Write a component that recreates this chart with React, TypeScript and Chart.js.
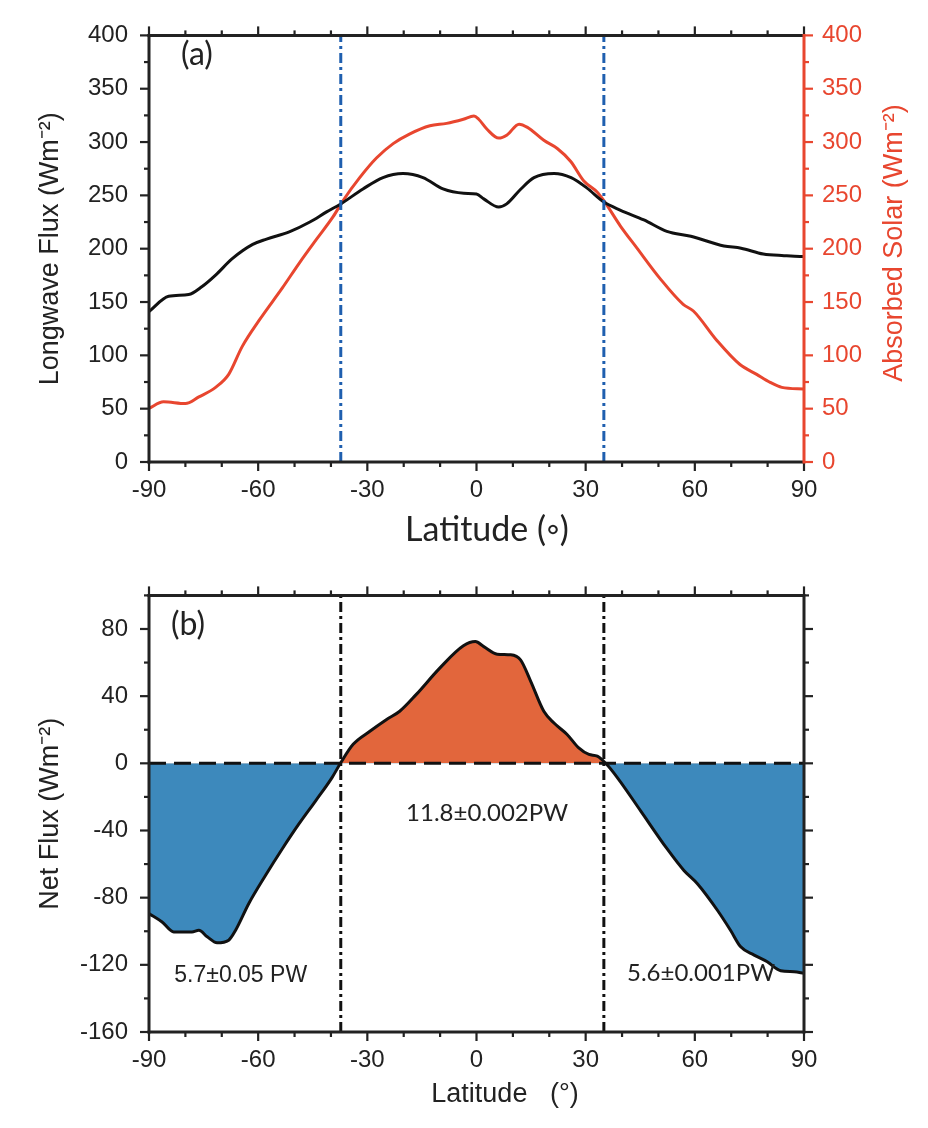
import React, { useEffect, useRef } from 'react';
import { Chart, registerables } from 'chart.js';
Chart.register(...registerables);

// ---------- data ----------
const lwLat = [-90, -84.6, -79.1, -75.4, -71.7, -67.2, -61.5, -57.7, -51.3, -45.8, -41.2, -37.3, -31.2, -25.7, -20.2, -14.7, -9.2, -3.5, 0, 2, 6.1, 8.3, 12.2, 15.8, 21.3, 26, 30.3, 35, 39.6, 46, 52.3, 58.9, 68, 72.7, 78.8, 84.5, 88.9, 90];
const lwVal = [141, 155.4, 157, 164.5, 175.2, 190.4, 204, 209, 216, 225, 234.5, 242, 256, 266.7, 270.5, 266.7, 256, 252, 251.3, 246.7, 239, 242, 256, 266.6, 270.5, 266.6, 257, 243.7, 236, 227, 216.3, 211.7, 202.6, 200.5, 195, 193.5, 192.8, 192.8];

const swLat = [-90, -86, -80, -76.3, -71.7, -68.1, -64.4, -59.8, -53.4, -48.6, -44, -39.4, -36.7, -32.1, -27.5, -22.9, -18.3, -12.8, -8.2, -3.6, -0.7, 0.6, 2.9, 6.1, 8.4, 11.7, 14, 18.5, 22.2, 25.9, 29.5, 33.2, 35, 39.6, 44, 50.4, 56.8, 59.6, 66, 72.4, 77, 80.7, 83.9, 90];
const swVal = [50.3, 56.4, 54.8, 61, 70, 82.2, 108.2, 132.5, 163, 187, 208.7, 230, 245, 266.6, 285, 298.5, 307.7, 315.3, 317.5, 321.4, 324.4, 321.4, 312, 303.7, 306.7, 316.8, 313.8, 301.6, 294, 281.8, 263.5, 252.9, 245, 221, 201, 172.2, 147.8, 141.6, 114.2, 91.4, 82.2, 74.7, 70, 68.5];

const netLat = [-90, -86.4, -83.2, -78.2, -76.3, -74, -71.3, -68.1, -66.2, -62.6, -58, -53.4, -48.8, -44.2, -39.7, -37.4, -33.9, -29.3, -24.8, -21.1, -16.6, -10.1, -3.6, -0.3, 2, 5.7, 9.4, 12.1, 14.9, 18.5, 21.3, 24.9, 28.1, 30.9, 33.2, 35.5, 38.7, 45.1, 52.4, 57, 60.7, 66.2, 69.8, 72.6, 76.3, 79.9, 83.6, 87.3, 90];
const netVal = [-89.5, -94.5, -100.4, -100.4, -99.4, -103.3, -106.9, -105.3, -99.4, -83.6, -66.8, -51, -36.1, -22.3, -8.5, 0, 11.3, 19.1, 26, 31, 40.9, 56.7, 70, 72.5, 69.5, 65, 64.6, 61.6, 48.8, 31, 24, 17.2, 9.2, 5.3, 4.3, 0, -8.5, -28.3, -51, -63.8, -71.7, -87.5, -99.4, -109.3, -114.2, -118.2, -123.5, -124.1, -125];

const boundaryLats = [-37.3, 35];

const transportLabels = ['5.7±0.05 PW', '11.8±0.002PW', '5.6±0.001PW'];
const transportLat = [-64.8, 2.9, 61.7];
const transportVal = [-126.5, -29.6, -124.9];

// ---------- styles ----------
const RED = '#E8462F';
const BLUE_LINE = '#1F5FAF';
const ORANGE = '#E2663C';
const BLUE_FILL = '#3D89BC';
const INK = '#222222';
const HELV = '"Liberation Sans", Arial, sans-serif';
const HUM = 'Lato, "Open Sans", sans-serif';
const TICK_SIZE = 24;
const TITLE_SIZE = 27;

const pts = (xs: number[], ys: number[]) => xs.map((x, i) => ({ x, y: ys[i] }));

const framePlugin = {
  id: 'frameTicks',
  afterDatasetsDraw(chart: any, _a: any, opts: any) {
    const { ctx, chartArea: ca, scales } = chart;
    const xs = scales.x;
    const ys = scales.y;
    const ry = scales[opts.rightScale || 'y'];
    const isMajor = (v: number, s: number) => Math.abs(v / s - Math.round(v / s)) < 1e-6;
    ctx.save();
    ctx.lineCap = 'butt';
    const line = (x1: number, y1: number, x2: number, y2: number, c: string, w: number) => {
      ctx.strokeStyle = c;
      ctx.lineWidth = w;
      ctx.beginPath();
      ctx.moveTo(x1, y1);
      ctx.lineTo(x2, y2);
      ctx.stroke();
    };
    for (let i = 0; ; i++) {
      const v = xs.min + i * opts.xMinor;
      if (v > xs.max + 1e-6) break;
      const p = xs.getPixelForValue(v);
      const L = isMajor(v, opts.xMajor) ? 9 : 5;
      line(p, ca.bottom, p, ca.bottom + L, INK, 2.2);
      line(p, ca.top, p, ca.top - L, INK, 2.2);
    }
    for (let i = 0; ; i++) {
      const v = ys.min + i * opts.yMinor;
      if (v > ys.max + 1e-6) break;
      const p = ys.getPixelForValue(v);
      const L = isMajor(v, opts.yMajor) ? 9 : 5;
      line(ca.left, p, ca.left - L, p, INK, 2.2);
    }
    for (let i = 0; ; i++) {
      const v = ry.min + i * opts.yMinor;
      if (v > ry.max + 1e-6) break;
      const p = ry.getPixelForValue(v);
      const L = isMajor(v, opts.yMajor) ? 9 : 5;
      line(ca.right, p, ca.right + L, p, opts.rightColor, 2.2);
    }
    line(ca.left - 1.5, ca.top, ca.right, ca.top, INK, 3);
    line(ca.left - 1.5, ca.bottom, ca.right, ca.bottom, INK, 3);
    line(ca.left, ca.top - 1.5, ca.left, ca.bottom + 1.5, INK, 3);
    line(ca.right, ca.top - 1.5, ca.right, ca.bottom + 1.5, opts.rightColor, 3);
    ctx.restore();
  },
  afterDraw(chart: any, _a: any, opts: any) {
    const { ctx, scales } = chart;
    (opts.texts || []).forEach((t: any) => {
      const px = t.dataX !== undefined ? scales.x.getPixelForValue(t.dataX) : t.x;
      const py = t.dataY !== undefined ? scales.y.getPixelForValue(t.dataY) : t.y;
      ctx.save();
      ctx.font = t.font;
      ctx.fillStyle = t.color || INK;
      ctx.textAlign = t.align || 'center';
      ctx.textBaseline = 'middle';
      ctx.translate(px, py);
      if (t.rotate) ctx.rotate(t.rotate);
      ctx.fillText(t.text, 0, 0);
      ctx.restore();
    });
  },
};

function ChartA() {
  const ref = useRef<HTMLCanvasElement>(null);
  useEffect(() => {
    const chart = new Chart(ref.current as HTMLCanvasElement, {
      type: 'line',
      data: {
        datasets: [
          ...boundaryLats.map((b) => ({
            data: [{ x: b, y: 0 }, { x: b, y: 400 }],
            borderColor: BLUE_LINE,
            borderWidth: 3,
            borderDash: [10, 4, 3, 4],
            pointRadius: 0,
            yAxisID: 'y',
            order: 0,
          })),
          {
            data: pts(lwLat, lwVal),
            borderColor: '#111',
            borderWidth: 3,
            pointRadius: 0,
            cubicInterpolationMode: 'monotone',
            yAxisID: 'y',
            order: 1,
          },
          {
            data: pts(swLat, swVal),
            borderColor: RED,
            borderWidth: 3,
            pointRadius: 0,
            cubicInterpolationMode: 'monotone',
            yAxisID: 'y1',
            order: 2,
          },
        ] as any,
      },
      options: {
        animation: false,
        responsive: false,
        layout: { padding: { top: 24, left: 0, right: 0, bottom: 0 } },
        plugins: {
          legend: { display: false },
          tooltip: { enabled: false },
          frameTicks: {
            xMinor: 10, xMajor: 30, yMinor: 25, yMajor: 50,
            rightScale: 'y1', rightColor: RED,
            texts: [
              { text: '(a)', x: 181, y: 55, font: `32px ${HUM}`, align: 'left' },
              { text: 'Latitude (◦)', x: 487, y: 530, font: `34px ${HUM}` },
              { text: 'Absorbed Solar (Wm⁻²)', x: 895, y: 243, font: `${TITLE_SIZE}px ${HELV}`, color: RED, rotate: -Math.PI / 2 },
            ],
          },
        } as any,
        scales: {
          x: {
            type: 'linear', min: -90, max: 90,
            ticks: { stepSize: 30, padding: 14, color: INK, font: { family: HELV, size: TICK_SIZE }, maxRotation: 0, autoSkip: false },
            grid: { display: false, drawTicks: false },
            border: { display: false },
            afterFit: (s: any) => { s.height = 98; },
          },
          y: {
            type: 'linear', position: 'left', min: 0, max: 400,
            ticks: { stepSize: 50, padding: 21, color: INK, font: { family: HELV, size: TICK_SIZE } },
            grid: { display: false, drawTicks: false },
            border: { display: false },
            title: { display: true, text: 'Longwave Flux (Wm⁻²)', color: INK, font: { family: HELV, size: TITLE_SIZE }, padding: { top: 34, bottom: 0 } },
            afterFit: (s: any) => { s.width = 149; },
          },
          y1: {
            type: 'linear', position: 'right', min: 0, max: 400,
            ticks: { stepSize: 50, padding: 18, color: RED, font: { family: HELV, size: TICK_SIZE } },
            grid: { display: false, drawTicks: false },
            border: { display: false },
            afterFit: (s: any) => { s.width = 124; },
          },
        } as any,
      },
      plugins: [framePlugin as any],
    });
    return () => chart.destroy();
  }, []);
  return <canvas ref={ref} width={928} height={560} style={{ position: 'absolute', left: 0, top: 0, display: 'block' }} />;
}

function ChartB() {
  const ref = useRef<HTMLCanvasElement>(null);
  useEffect(() => {
    const chart = new Chart(ref.current as HTMLCanvasElement, {
      type: 'line',
      data: {
        datasets: [
          {
            data: [{ x: -90, y: 0 }, { x: 90, y: 0 }],
            borderColor: '#111',
            borderWidth: 3,
            borderDash: [17, 8],
            pointRadius: 0,
            order: 0,
          },
          ...boundaryLats.map((b) => ({
            data: [{ x: b, y: -160 }, { x: b, y: 100 }],
            borderColor: '#111',
            borderWidth: 3,
            borderDash: [10, 4, 3, 4],
            pointRadius: 0,
            order: 1,
          })),
          {
            data: pts(netLat, netVal),
            borderColor: '#111',
            borderWidth: 3,
            pointRadius: 0,
            cubicInterpolationMode: 'monotone',
            fill: { target: 'origin', above: ORANGE, below: BLUE_FILL },
            order: 2,
          },
        ] as any,
      },
      options: {
        animation: false,
        responsive: false,
        layout: { padding: { top: 33, left: 0, right: 124, bottom: 0 } },
        plugins: {
          legend: { display: false },
          tooltip: { enabled: false },
          frameTicks: {
            xMinor: 10, xMajor: 30, yMinor: 20, yMajor: 40,
            rightColor: INK,
            texts: [
              { text: '(b)', x: 171, y: 65, font: `32px ${HUM}`, align: 'left' },
              { text: 'Latitude   (°)', x: 505, y: 535, font: `${TITLE_SIZE}px ${HELV}` },
              { text: transportLabels[0], dataX: transportLat[0], dataY: transportVal[0], font: `23px ${HELV}` },
              { text: transportLabels[1], dataX: transportLat[1], dataY: transportVal[1], font: `24px ${HUM}` },
              { text: transportLabels[2], dataX: transportLat[2], dataY: transportVal[2], font: `24px ${HUM}` },
            ],
          },
        } as any,
        scales: {
          x: {
            type: 'linear', min: -90, max: 90,
            ticks: { stepSize: 30, padding: 14, color: INK, font: { family: HELV, size: TICK_SIZE }, maxRotation: 0, autoSkip: false },
            grid: { display: false, drawTicks: false },
            border: { display: false },
            afterFit: (s: any) => { s.height = 96; },
          },
          y: {
            type: 'linear', position: 'left', min: -160, max: 100,
            ticks: { stepSize: 40, includeBounds: false, padding: 21, color: INK, font: { family: HELV, size: TICK_SIZE } },
            grid: { display: false, drawTicks: false },
            border: { display: false },
            title: { display: true, text: 'Net Flux (Wm⁻²)', color: INK, font: { family: HELV, size: TITLE_SIZE }, padding: { top: 34, bottom: 0 } },
            afterFit: (s: any) => { s.width = 149; },
          },
        } as any,
      },
      plugins: [framePlugin as any],
    });
    return () => chart.destroy();
  }, []);
  return <canvas ref={ref} width={928} height={568} style={{ position: 'absolute', left: 0, top: 560, display: 'block' }} />;
}

export default function App() {
  return (
    <div style={{ position: 'absolute', left: 0, top: 0, width: 928, height: 1128, background: '#fff', overflow: 'hidden' }}>
      <ChartA />
      <ChartB />
    </div>
  );
}
